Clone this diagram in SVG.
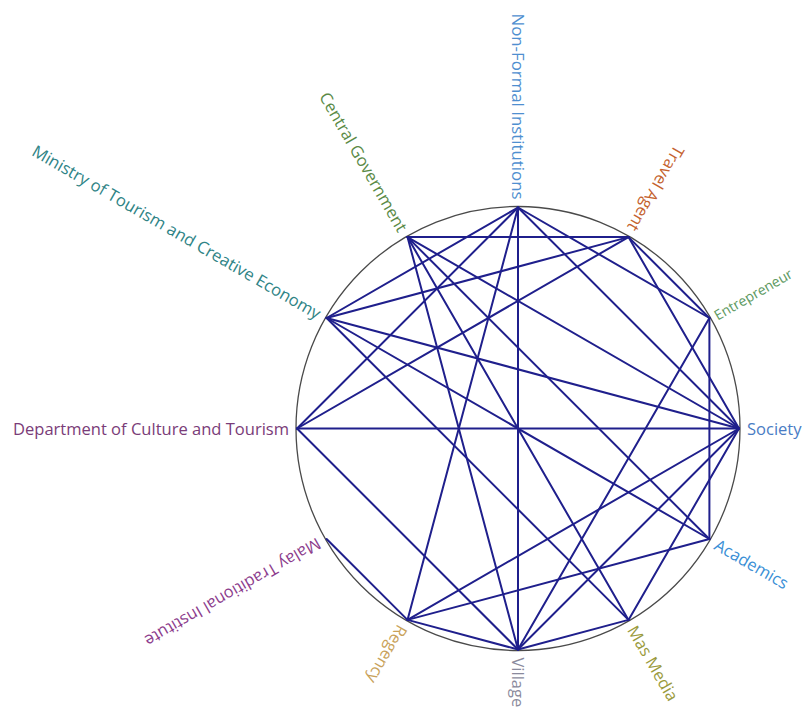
<svg xmlns="http://www.w3.org/2000/svg" width="805" height="711" viewBox="0 0 805 711">
<style>
.lbl{font-family:"Open Sans","Noto Sans","Liberation Sans",sans-serif;font-size:16.5px;dominant-baseline:central}
.e line{stroke:#1f1f8c;stroke-width:2;stroke-linecap:round}
.ring{fill:none;stroke:#4a4a4a;stroke-width:1.3}
</style>
<rect width="805" height="711" fill="#ffffff"/>
<circle class="ring" cx="518" cy="428.5" r="222"/>
<g id="connectors" class="e">
<line x1="518" y1="207.5" x2="518" y2="649.5"/>
<line x1="297" y1="428.5" x2="739" y2="428.5"/>
<line x1="407.5" y1="237.1" x2="628.5" y2="237.1"/>
<line x1="709.4" y1="318" x2="709.4" y2="539"/>
<line x1="326.6" y1="539" x2="407.5" y2="619.9"/>
<line x1="407.5" y1="619.9" x2="518" y2="649.5"/>
<line x1="518" y1="649.5" x2="628.5" y2="619.9"/>
<line x1="297" y1="428.5" x2="518" y2="649.5"/>
<line x1="297" y1="428.5" x2="518" y2="207.5"/>
<line x1="297" y1="428.5" x2="628.5" y2="237.1"/>
<line x1="326.6" y1="318" x2="518" y2="207.5"/>
<line x1="326.6" y1="318" x2="628.5" y2="237.1"/>
<line x1="326.6" y1="318" x2="739" y2="428.5"/>
<line x1="326.6" y1="318" x2="628.5" y2="619.9"/>
<line x1="326.6" y1="318" x2="709.4" y2="539"/>
<line x1="407.5" y1="237.1" x2="518" y2="649.5"/>
<line x1="407.5" y1="237.1" x2="628.5" y2="619.9"/>
<line x1="407.5" y1="237.1" x2="739" y2="428.5"/>
<line x1="407.5" y1="237.1" x2="709.4" y2="539"/>
<line x1="518" y1="207.5" x2="407.5" y2="619.9"/>
<line x1="518" y1="207.5" x2="709.4" y2="318"/>
<line x1="518" y1="207.5" x2="739" y2="428.5"/>
<line x1="407.5" y1="619.9" x2="739" y2="428.5"/>
<line x1="407.5" y1="619.9" x2="709.4" y2="539"/>
<line x1="709.4" y1="318" x2="518" y2="649.5"/>
<line x1="628.5" y1="237.1" x2="709.4" y2="318"/>
<line x1="628.5" y1="237.1" x2="739" y2="428.5"/>
<line x1="518" y1="649.5" x2="739" y2="428.5"/>
<line x1="739" y1="428.5" x2="628.5" y2="619.9"/>
</g>
<g id="node-nonformal"><text class="lbl" fill="#4f8fd0" text-anchor="end" textLength="186" lengthAdjust="spacingAndGlyphs" transform="translate(518,199.5) rotate(90)">Non-Formal Institutions</text></g>
<g id="node-travel"><text class="lbl" fill="#c4622e" text-anchor="end" transform="translate(632.5,230.2) rotate(120)">Travel Agent</text></g>
<g id="node-entrepreneur"><text class="lbl" fill="#5e9a62" text-anchor="start" style="font-size:14px" transform="translate(715,316) rotate(-30)">Entrepreneur</text></g>
<g id="node-society"><text class="lbl" fill="#4a7cc4" text-anchor="start" transform="translate(747,428.5)">Society</text></g>
<g id="node-academics"><text class="lbl" fill="#3a8fd6" text-anchor="start" transform="translate(716.3,543) rotate(30)">Academics</text></g>
<g id="node-masmedia"><text class="lbl" fill="#9a9a3c" text-anchor="start" transform="translate(632.5,626.8) rotate(60)">Mas Media</text></g>
<g id="node-village"><text class="lbl" fill="#8a8a9c" text-anchor="start" transform="translate(518,657.5) rotate(90)">Village</text></g>
<g id="node-regency"><text class="lbl" fill="#c9a25a" text-anchor="start" transform="translate(403.5,626.8) rotate(120)">Regency</text></g>
<g id="node-malay"><text class="lbl" fill="#8c3c8c" text-anchor="start" textLength="200" lengthAdjust="spacingAndGlyphs" transform="translate(319.7,543) rotate(150)">Malay Traditional Institute</text></g>
<g id="node-department"><text class="lbl" fill="#7a3c78" text-anchor="end" textLength="276" lengthAdjust="spacingAndGlyphs" transform="translate(289,428.5)">Department of Culture and Tourism</text></g>
<g id="node-ministry"><text class="lbl" fill="#2f8486" text-anchor="end" textLength="330" lengthAdjust="spacingAndGlyphs" transform="translate(319.7,314) rotate(30)">Ministry of Tourism and Creative Economy</text></g>
<g id="node-central"><text class="lbl" fill="#5a8a46" text-anchor="end" textLength="158" lengthAdjust="spacingAndGlyphs" transform="translate(403.5,230.2) rotate(60)">Central Government</text></g>
</svg>
